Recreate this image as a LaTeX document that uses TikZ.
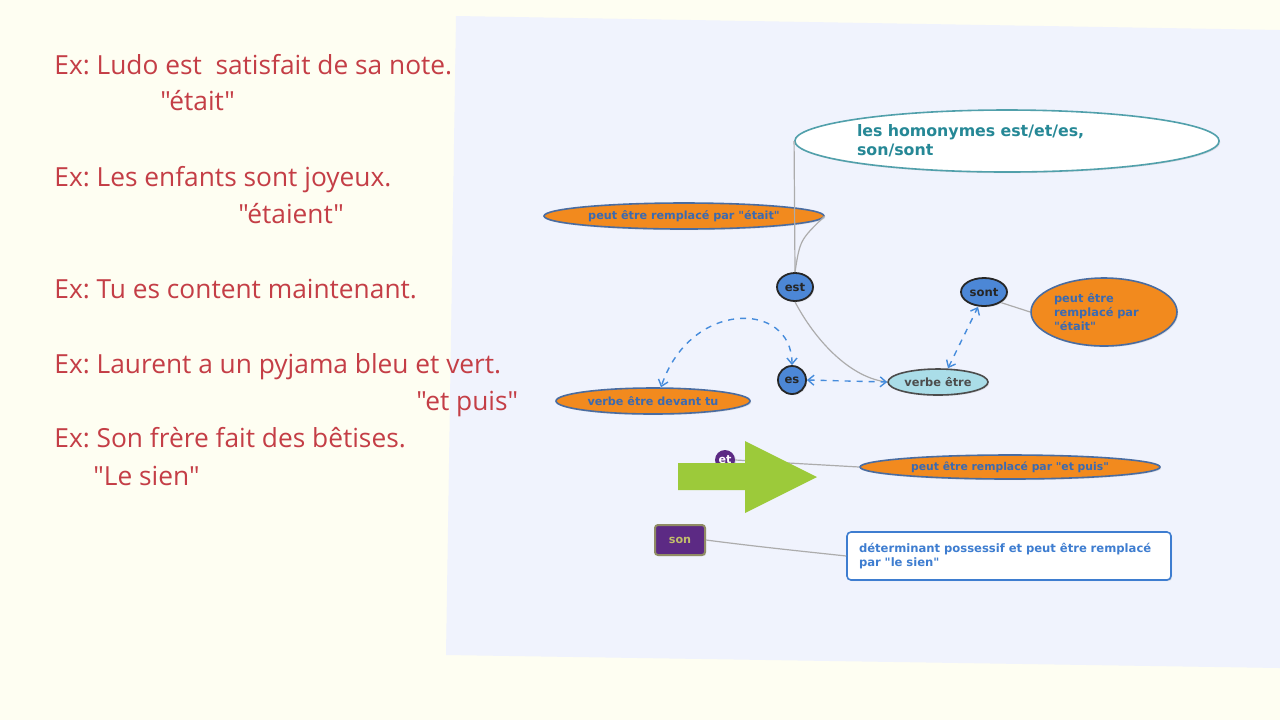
\documentclass[tikz,border=0pt]{standalone}
\usepackage{fontspec}
\newfontfamily\exfont{Open Sans}
\newfontfamily\mapfont{DejaVu Sans}
\usetikzlibrary{arrows.meta,calc,positioning,shapes.geometric,shadows}
\definecolor{cream}{RGB}{254,254,242}
\definecolor{panel}{RGB}{240,243,253}
\definecolor{exred}{RGB}{196,62,70}
\definecolor{orangefill}{RGB}{242,138,30}
\definecolor{ovalline}{RGB}{74,108,160}
\definecolor{textblue}{RGB}{58,106,178}
\definecolor{tealtext}{RGB}{38,136,150}
\definecolor{nodeblue}{RGB}{76,135,214}
\definecolor{paleblue}{RGB}{170,221,232}
\definecolor{mappurple}{RGB}{92,42,132}
\definecolor{dashblue}{RGB}{70,140,220}
\definecolor{boxblue}{RGB}{62,125,208}
\definecolor{arrowgreen}{RGB}{156,202,58}
\tikzset{%
	extext/.style   = {anchor=base west, text=exred, inner sep=0pt, font=\exfont\frenchspacing\fontsize{13.15}{15}\selectfont},
	mapnode/.style  = {inner sep=0pt, font=\mapfont\bfseries\fontsize{5.6}{6.6}\selectfont, drop shadow={opacity=0.2,shadow xshift=0.6pt,shadow yshift=-0.6pt}},
	orangeoval/.style = {mapnode, ellipse, draw=ovalline, line width=0.8pt, fill=orangefill, text=textblue},
	blueoval/.style = {mapnode, ellipse, draw=black!85, line width=0.9pt, fill=nodeblue, text=black!85, font=\mapfont\bfseries\fontsize{5.8}{6.6}\selectfont},
	link/.style     = {draw=gray!65, line width=0.6pt},
	duallink/.style = {draw=dashblue, dashed, line width=0.7pt, {Straight Barb[length=3pt,width=5pt]}-{Straight Barb[length=3pt,width=5pt]}},
}
\begin{document}
\begin{tikzpicture}[x=0.5pt,y=-0.5pt]
	\useasboundingbox (0,0) rectangle (1280,720);
	\fill[cream] (0,0) rectangle (1280,720);
	\fill[panel] (456,16) -- (1280,30) -- (1280,668) -- (446,655) -- cycle; % map sheet
	
	% mind map
	\node[mapnode, ellipse, draw=tealtext!80, line width=0.8pt, fill=white, text=tealtext, minimum width=209pt, minimum height=31pt, text width=150pt, align=left, font=\mapfont\bfseries\fontsize{7.9}{9.6}\selectfont] (central) at (1007,141) {les homonymes est/et/es,\\son/sont};
	\node[orangeoval, minimum width=140pt, minimum height=13pt] (etait) at (684,216) {peut être remplacé par "était"};
	\node[blueoval, minimum width=18pt, minimum height=14pt] (est) at (795,287) {est};
	\node[blueoval, minimum width=23pt, minimum height=14pt] (sont) at (984,292) {sont};
	\node[orangeoval, minimum width=73pt, minimum height=34pt, text width=50pt, align=left, font=\mapfont\bfseries\fontsize{5.7}{6.8}\selectfont] (sontdef) at (1104,312) {peut être\\remplacé par\\"était"};
	\node[blueoval, minimum width=14pt, minimum height=14pt] (es) at (792,380) {es};
	\node[mapnode, ellipse, draw=black!70, line width=0.8pt, fill=paleblue, text=black!70, minimum width=50pt, minimum height=13pt, font=\mapfont\bfseries\fontsize{5.7}{6.6}\selectfont] (verbe) at (938,382) {verbe être};
	\node[orangeoval, minimum width=97pt, minimum height=13pt] (devant) at (653,401) {verbe être devant tu};
	\node[mapnode, circle, fill=mappurple, text=white, minimum size=10pt] (et) at (725,460) {et};
	\node[orangeoval, minimum width=150pt, minimum height=12pt, font=\mapfont\bfseries\fontsize{5.4}{6.4}\selectfont] (etpuis) at (1010,467) {peut être remplacé par "et puis"};
	\node[mapnode, rectangle, rounded corners=1.5pt, draw=gray!70!olive, line width=1pt, fill=mappurple, text=gray!55!yellow, minimum width=25pt, minimum height=15pt] (son) at (680,540) {son};
	\node[mapnode, rectangle, rounded corners=2pt, draw=boxblue, line width=0.8pt, fill=white, text=boxblue, minimum width=162pt, minimum height=24pt, text width=150pt, align=left, font=\mapfont\bfseries\fontsize{5.8}{6.8}\selectfont] (det) at (1009,556) {déterminant possessif et peut être remplacé\\par "le sien"};
	
	\draw[link] (central.west) -- (est.north);
	\draw[link] (est.north) .. controls (800,240) .. (etait.east);
	\draw[link] (est.south) .. controls (815,340) and (850,378) .. (verbe.west);
	\draw[link] (sont.south east) -- (sontdef.west);
	\draw[link] (et.east) -- (etpuis.west);
	\draw[link] (son.east) .. controls (760,547) and (800,551) .. (det.west);
	\draw[duallink] (es.east) -- (verbe.west);
	\draw[duallink] ($(verbe.north)+(10,0)$) -- ($(sont.south)+(-6,0)$);
	\draw[duallink] (es.north) .. controls (792,300) and (690,300) .. ($(devant.north)+(8,0)$);
	
	% big green arrow over the et node
	\fill[arrowgreen] (678,463) -- (745,463) -- (745,441) -- (817,477) -- (745,513) -- (745,490) -- (678,490) -- cycle;
	
	% examples on the left
	\node[extext] (ex1) at (54,74) {Ex: Ludo est \ satisfait de sa note.};
	\node[extext] (ex1r) at (160,110) {"était"};
	\node[extext] (ex2) at (54,186) {Ex: Les enfants sont joyeux.};
	\node[extext] (ex2r) at (238,223) {"étaient"};
	\node[extext] (ex3) at (54,298) {Ex: Tu es content maintenant.};
	\node[extext] (ex4) at (54,373) {Ex: Laurent a un pyjama bleu et vert.};
	\node[extext] (ex4r) at (416,410) {"et puis"};
	\node[extext] (ex5) at (54,447) {Ex: Son frère fait des bêtises.};
	\node[extext] (ex5r) at (93,485) {"Le sien"};
\end{tikzpicture}
\end{document}
